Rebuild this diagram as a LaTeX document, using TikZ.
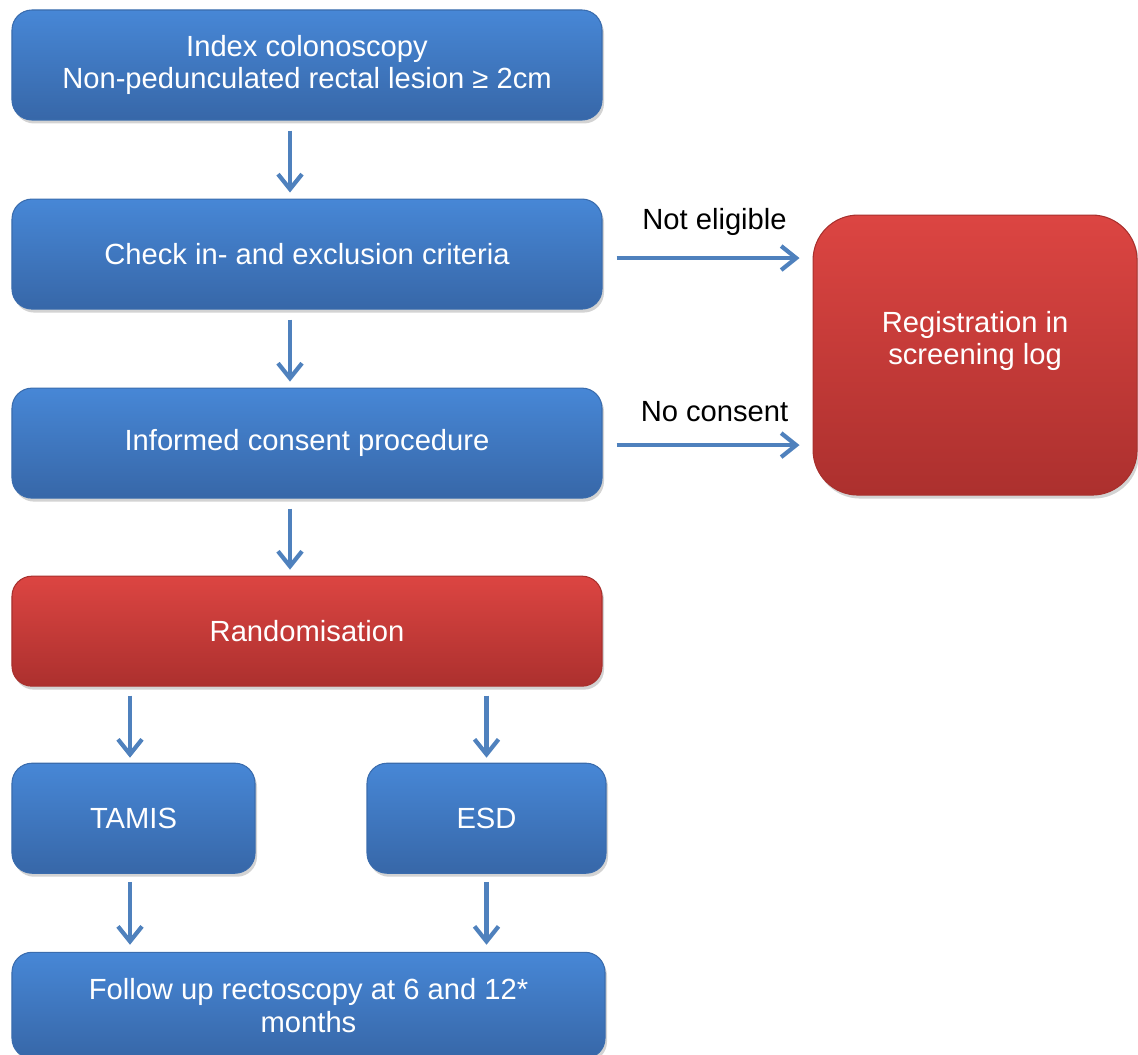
\documentclass[tikz,border=0pt]{standalone}
\usepackage{fontspec}
\setmainfont{Liberation Sans}
\usepackage{tikz}
\usetikzlibrary{positioning, calc, arrows.meta, shadows}
\usepackage{xcolor}
\definecolor{boxtop}{HTML}{4787D6}
\definecolor{boxbot}{HTML}{3767A8}
\definecolor{boxline}{HTML}{3A6CAD}
\definecolor{redtop}{HTML}{DC4542}
\definecolor{redbot}{HTML}{AC302E}
\definecolor{redline}{HTML}{A8302D}
\definecolor{arrowblue}{HTML}{4F81BD}

\begin{document}
\begin{tikzpicture}[
    font=\fontsize{16.6}{18.6}\selectfont,
    step_box/.style={rectangle, draw=boxline, line width=0.6pt, rounded corners=0.4cm,
        top color=boxtop, bottom color=boxbot, text=white, align=center,
        minimum width=11.8cm, minimum height=2.2cm, inner sep=0pt,
        drop shadow={opacity=0.35, shadow xshift=0.04cm, shadow yshift=-0.07cm}},
    red_box/.style={step_box, draw=redline, top color=redtop, bottom color=redbot},
    flow_arrow/.style={draw=arrowblue, line width=2.4pt,
        -{Straight Barb[length=0.3cm, width=0.48cm]}}]

    \useasboundingbox (0,0) rectangle (22.76,-21.08);

    % Main column
    \node[step_box] (index) at (6.14,-1.3) {Index colonoscopy\\Non-pedunculated rectal lesion ≥ 2cm};
    \node[step_box, below=1.56cm of index] (check) {Check in- and exclusion criteria};
    \node[step_box, below=1.56cm of check] (consent) {Informed consent procedure};
    \node[red_box, below=1.54cm of consent] (random) {Randomisation};

    % Treatment arms
    \node[step_box, minimum width=4.86cm, below right=1.52cm and 0cm of random.south west] (tamis) {TAMIS};
    \node[step_box, minimum width=4.78cm, below left=1.52cm and -0.08cm of random.south east] (esd) {ESD};
    \node[step_box, minimum width=11.86cm, minimum height=2.12cm, below right=1.56cm and 0cm of tamis.south west] (follow) {Follow up rectoscopy at 6 and 12*\\months};

    % Screening log
    \node[red_box, rounded corners=0.9cm, minimum width=6.48cm, minimum height=5.6cm,
        below right=0.32cm and 4.2cm of check.north east,
        label={[yshift=0.28cm, text=white, align=center]center:Registration in\\screening log}] (screen) {};

    % Arrows down the main column
    \draw[flow_arrow] ($(index.south)+(-0.34,-0.2)$) -- ($(check.north)+(-0.34,0.12)$);
    \draw[flow_arrow] ($(check.south)+(-0.34,-0.2)$) -- ($(consent.north)+(-0.34,0.12)$);
    \draw[flow_arrow] ($(consent.south)+(-0.34,-0.2)$) -- ($(random.north)+(-0.34,0.12)$);

    % Arrows to and from the arms
    \draw[flow_arrow] ($(random.south -| tamis.north)+(-0.07,-0.18)$) -- ($(tamis.north)+(-0.07,0.1)$);
    \draw[flow_arrow] ($(random.south -| esd.north)+(0,-0.18)$) -- ($(esd.north)+(0,0.1)$);
    \draw[flow_arrow] ($(tamis.south)+(-0.07,-0.16)$) -- ($(tamis.south |- follow.north)+(-0.07,0.14)$);
    \draw[flow_arrow] ($(esd.south)+(0,-0.16)$) -- ($(esd.south |- follow.north)+(0,0.14)$);

    % Arrows to the screening log
    \draw[flow_arrow, shorten >=0.26cm] ($(check.east)+(0.28,-0.08)$) -- ($(check.east -| screen.west)+(0,-0.08)$)
        node[midway, above=0.3cm, text=black] {Not eligible};
    \draw[flow_arrow, shorten >=0.26cm] ($(consent.east)+(0.28,-0.04)$) -- ($(consent.east -| screen.west)+(0,-0.04)$)
        node[midway, above=0.3cm, text=black] {No consent};
\end{tikzpicture}
\end{document}
